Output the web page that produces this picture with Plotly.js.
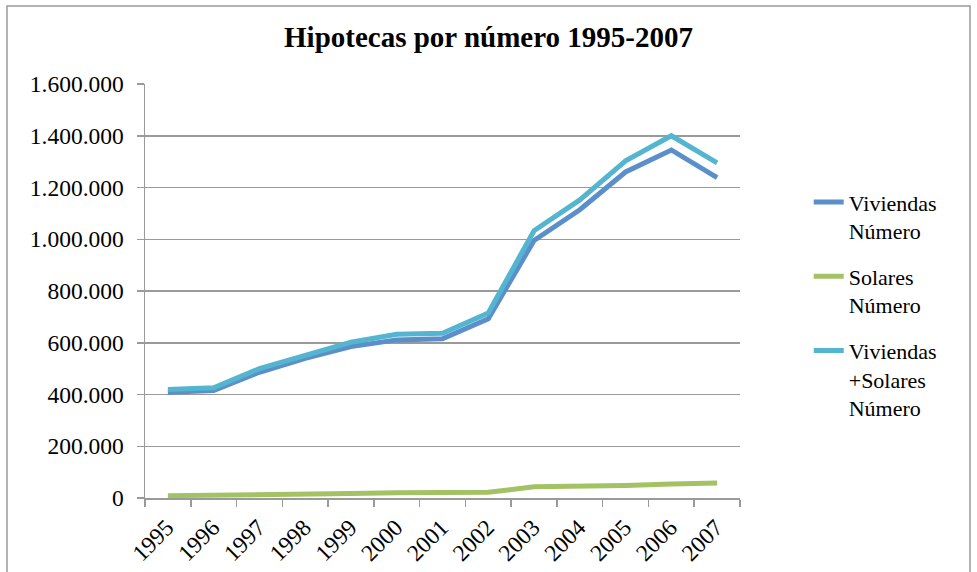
<!DOCTYPE html>
<html>
<head>
<meta charset="utf-8">
<script src="https://cdn.plot.ly/plotly-3.0.1.min.js"></script>
<style>html,body{margin:0;padding:0;background:#fff;}#chart{width:977px;height:572px;}</style>
</head>
<body>
<div id="chart"></div>
<script>
const years = ["1995","1996","1997","1998","1999","2000","2001","2002","2003","2004","2005","2006","2007"];
const viviendasNumero = [409000, 415000, 486000, 540000, 585000, 611000, 615000, 693000, 995000, 1114000, 1260000, 1345000, 1238000];
const solaresNumero = [9000, 10000, 15000, 15000, 17000, 20000, 21000, 22000, 43000, 44000, 48000, 54000, 58000];
const totalNumero = [419000, 426000, 500000, 553000, 602000, 633000, 637000, 715000, 1033000, 1152000, 1303000, 1400000, 1295000];
const seriesNames = ["Viviendas<br>Número", "Solares<br>Número", "Viviendas<br>+Solares<br>Número"];
const seriesColors = ["#5b8fca", "#a3c264", "#53b5cf"];
const titleText = "Hipotecas por número 1995-2007";

const font = "Liberation Serif, Times New Roman, serif";
const seriesData = [viviendasNumero, solaresNumero, totalNumero];
const traces = seriesData.map((v, i) => ({
  type: "scatter",
  mode: "lines",
  x: years,
  y: v,
  name: seriesNames[i],
  legendgroup: "g" + i,
  line: {color: seriesColors[i], width: 5, shape: "linear"},
  hoverinfo: "skip"
}));

const layout = {
  width: 977,
  height: 572,
  separators: ",.",
  paper_bgcolor: "#ffffff",
  plot_bgcolor: "#ffffff",
  margin: {l: 145, r: 237, t: 84, b: 74, pad: 0},
  font: {family: font, size: 22, color: "#000000"},
  title: {
    text: "<b>" + titleText + "</b>",
    font: {family: font, size: 29, color: "#000000"},
    x: 0.5, xanchor: "center", xref: "container",
    y: 1 - 37/572, yanchor: "middle", yref: "container"
  },
  xaxis: {
    type: "category",
    range: [-0.5, years.length - 0.5],
    tickson: "boundaries",
    ticks: "outside",
    ticklen: 7,
    tickwidth: 1.5,
    tickcolor: "#9a9a9a",
    showline: true,
    linecolor: "#9a9a9a",
    linewidth: 1.5,
    showgrid: false,
    tickangle: -45,
    ticklabelshift: -1,
    ticklabelstandoff: 5,
    tickfont: {family: font, size: 23.5, color: "#000"},
    zeroline: false,
    fixedrange: true
  },
  yaxis: {
    range: [0, 1600000],
    dtick: 200000,
    tick0: 0,
    tickformat: ",d",
    ticks: "outside",
    ticklen: 7,
    tickwidth: 1.5,
    tickcolor: "#9a9a9a",
    showline: true,
    linecolor: "#9a9a9a",
    linewidth: 1.5,
    showgrid: true,
    gridcolor: "#9a9a9a",
    gridwidth: 1.5,
    zeroline: false,
    ticklabelstandoff: 8,
    tickfont: {family: font, size: 23.5, color: "#000"},
    fixedrange: true
  },
  showlegend: true,
  legend: {
    x: 1.1155, xanchor: "left",
    y: 0.765, yanchor: "top",
    valign: "top",
    tracegroupgap: 14,
    font: {family: font, size: 22, color: "#000"},
    bgcolor: "rgba(0,0,0,0)",
    itemwidth: 30
  },
  shapes: [{
    type: "rect", xref: "paper", yref: "paper",
    x0: (7 - 145) / 595, x1: (970 - 145) / 595,
    y0: -0.3, y1: (497.7 - 6) / 413.7,
    line: {color: "#9a9a9a", width: 1.5},
    fillcolor: "rgba(0,0,0,0)",
    layer: "below"
  }]
};

Plotly.newPlot("chart", traces, layout, {staticPlot: true, displayModeBar: false});
</script>
</body>
</html>
